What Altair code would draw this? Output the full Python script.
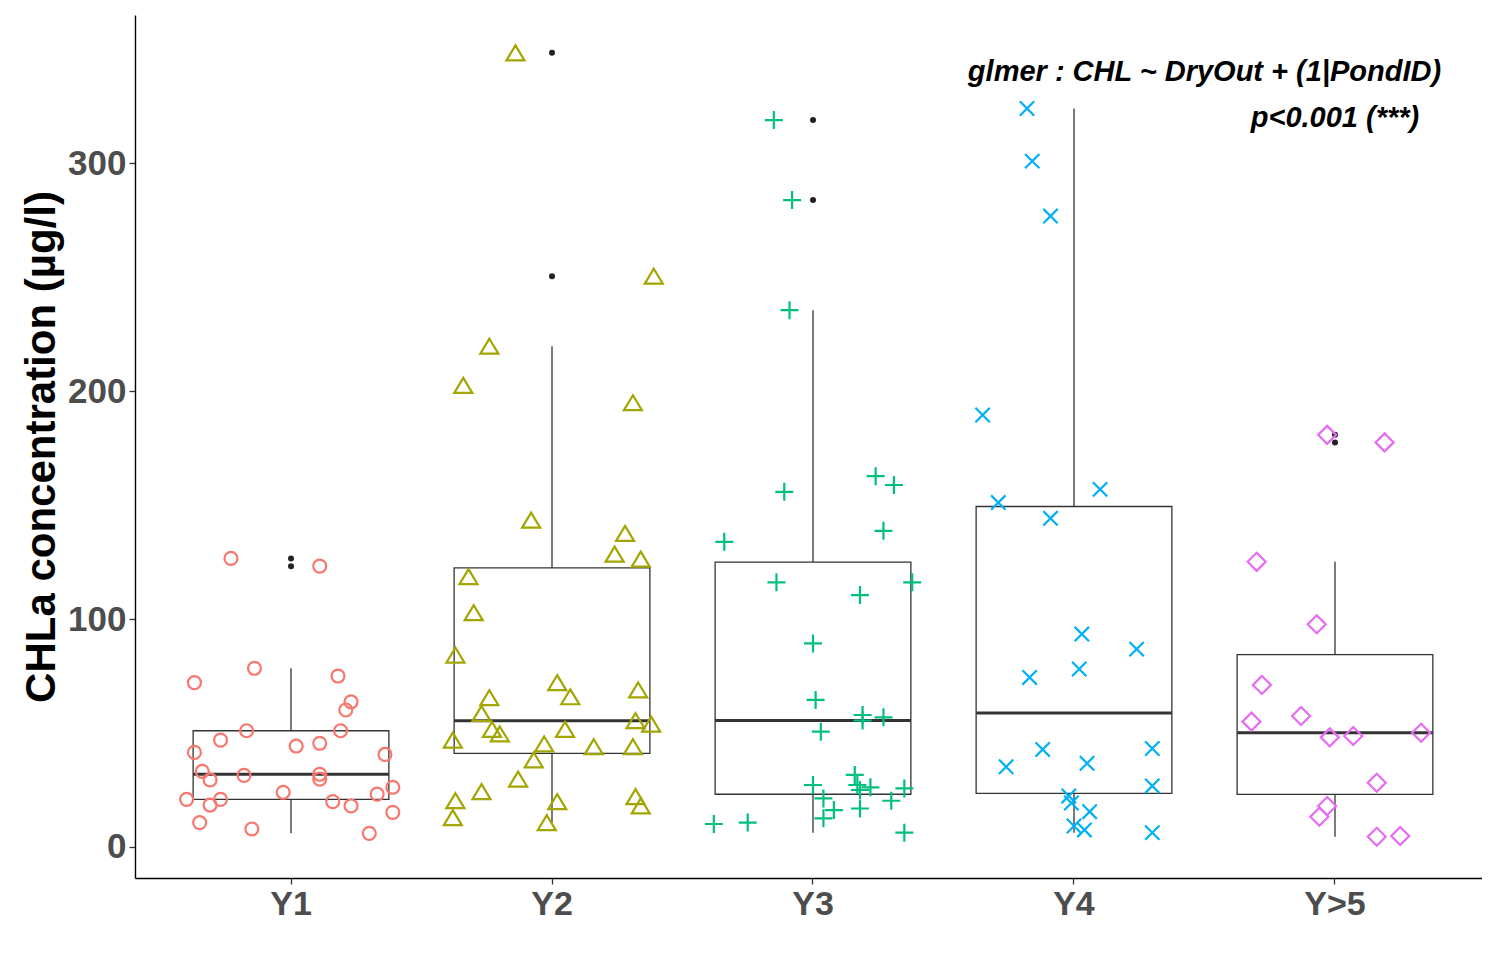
import altair as alt
import pandas as pd

groups = ["Y1", "Y2", "Y3", "Y4", "Y>5"]
colors = ["#F8766D", "#A3A500", "#00BF7D", "#00B0F6", "#E76BF3"]
shapes = [
    "M-0.72,0A0.72,0.72 0 1,0 0.72,0A0.72,0.72 0 1,0 -0.72,0Z",
    "M0,-0.83L1,0.83L-1,0.83Z",
    "M-1,0L1,0M0,-1L0,1",
    "M-0.8,-0.8L0.8,0.8M-0.8,0.8L0.8,-0.8",
    "M0,-1L1,0L0,1L-1,0Z",
]

# CHLa values (ug/l) and horizontal jitter (fraction of category width)
y1_values = [126.6, 123.2, 78.4, 72.1, 75.0, 63.7, 60.1, 51.0, 51.0, 46.9, 44.3, 45.5, 41.5, 40.6,
             33.2, 29.4, 31.4, 31.9, 29.8, 24.0, 26.2, 23.2, 20.9, 20.9, 18.4, 19.9, 18.0, 15.2,
             10.7, 7.9, 6.0]
y1_jitter = [-0.23, 0.11, -0.14, -0.37, 0.18, 0.23, 0.21, -0.17, 0.19, -0.27, 0.02, 0.11, -0.37, 0.36,
             -0.34, -0.31, -0.18, 0.11, 0.11, -0.03, 0.39, 0.33, -0.40, -0.27, -0.31, 0.16, 0.23, 0.39,
             -0.35, -0.15, 0.30]

y2_values = [348.4, 250.4, 219.7, 202.5, 194.9, 143.4, 137.6, 128.5, 126.3, 118.6, 102.8, 84.2,
             72.1, 65.9, 68.9, 65.5, 58.6, 55.4, 53.9, 51.6, 49.6, 51.6, 46.9, 45.2, 44.0, 44.0,
             38.2, 29.8, 24.3, 20.3, 12.9, 19.9, 10.7, 22.1, 18.0]
y2_jitter = [-0.14, 0.39, -0.24, -0.34, 0.31, -0.08, 0.28, 0.24, 0.34, -0.32, -0.30, -0.37,
             0.02, 0.07, 0.33, -0.24, -0.27, 0.32, 0.38, -0.23, -0.20, 0.05, -0.38, -0.03, 0.16, 0.31,
             -0.07, -0.13, -0.27, -0.37, -0.38, 0.02, -0.02, 0.32, 0.34]

y3_values = [318.9, 283.8, 235.5, 155.8, 162.7, 158.8, 138.7, 133.9, 116.1, 116.1, 110.5, 89.3,
             64.5, 57.9, 56.9, 55.5, 50.6, 27.2, 31.6, 27.2, 26.2, 25.7, 25.0, 21.3, 20.3, 16.2,
             16.9, 12.6, 10.1, 10.7, 6.3]
y3_jitter = [-0.15, -0.08, -0.09, -0.11, 0.24, 0.31, 0.27, -0.34, -0.14, 0.38, 0.18, 0.00,
             0.01, 0.19, 0.27, 0.19, 0.03, 0.00, 0.16, 0.17, 0.22, 0.35, 0.18, 0.04, 0.30, 0.08,
             0.18, 0.04, -0.38, -0.25, 0.35]

y4_values = [324.0, 300.9, 276.8, 189.5, 156.9, 151.1, 144.2, 93.4, 86.8, 78.1, 74.4, 42.8, 43.2,
             35.2, 36.7, 26.8, 22.4, 19.3, 15.5, 9.2, 7.5, 6.3]
y4_jitter = [-0.18, -0.16, -0.09, -0.35, 0.10, -0.29, -0.09, 0.03, 0.24, 0.02, -0.17, -0.12, 0.30,
             -0.26, 0.05, 0.30, -0.02, -0.01, 0.06, 0.00, 0.04, 0.30]

y5_values = [180.8, 177.5, 125.1, 97.7, 71.1, 57.5, 55.0, 48.1, 48.7, 50.1, 28.2, 18.0, 13.3, 4.5, 4.8]
y5_jitter = [-0.03, 0.19, -0.30, -0.07, -0.28, -0.13, -0.32, -0.02, 0.07, 0.33, 0.16, -0.03, -0.06,
             0.16, 0.25]

ann_text = ["glmer : CHL ~ DryOut + (1|PondID)", "p<0.001 (***)"]
ann_group = ["Y4", "Y>5"]
ann_offset = [0.5, 0.0]
ann_value = [340, 320]

rows = []
for g, vals, jit in zip(groups,
                        [y1_values, y2_values, y3_values, y4_values, y5_values],
                        [y1_jitter, y2_jitter, y3_jitter, y4_jitter, y5_jitter]):
    for v, j in zip(vals, jit):
        rows.append({"group": g, "value": v, "jitter": j})
df = pd.DataFrame(rows)
ann = pd.DataFrame({"text": ann_text, "group": ann_group, "jitter": ann_offset, "value": ann_value})

FONT = "Liberation Sans"
W, H = 1347, 863
PAD_OUT = 0.0805
step = W / (5 + 2 * PAD_OUT)

x_enc = alt.X("group:N", sort=groups,
              scale=alt.Scale(domain=groups, paddingInner=0, paddingOuter=PAD_OUT, align=0.607),
              axis=alt.Axis(title=None, labelAngle=0, labelFontSize=34, labelFontWeight="bold",
                            labelColor="#4d4d4d", labelFont=FONT, tickSize=6, tickColor="#333333",
                            tickWidth=1.3, domainColor="black", domainWidth=1.4, labelPadding=3,
                            grid=False))
y_enc = alt.Y("value:Q",
              scale=alt.Scale(domain=[-13.6, 365], nice=False, zero=False),
              axis=alt.Axis(values=[0, 100, 200, 300], labelFontSize=35, labelFontWeight="bold",
                            labelColor="#4d4d4d", labelFont=FONT, tickSize=6, tickColor="#333333",
                            tickWidth=1.3, domainColor="black", domainWidth=1.4, grid=False,
                            labelPadding=3, title="CHLa concentration (µg/l)", titleFontSize=42,
                            titleFontWeight="bold", titleColor="black", titleFont=FONT,
                            titlePadding=4))
# offset positions are measured from the band start
off_scale = alt.Scale(domain=[-0.5, 0.5], range=[0, step])

box = alt.Chart(df).mark_boxplot(
    extent=1.5, size=0.75 * step,
    box={"fill": "white", "stroke": "#333333", "strokeWidth": 1.3, "opacity": 1},
    median={"color": "#333333", "thickness": 3, "opacity": 1},
    rule={"color": "#333333", "strokeWidth": 1.3, "opacity": 1},
    outliers={"color": "#222222", "filled": True, "size": 36, "opacity": 1},
).encode(x=x_enc, y=y_enc)

pts = alt.Chart(df).mark_point(filled=False, strokeWidth=2.2, size=324, opacity=1).encode(
    x=alt.X("group:N", sort=groups),
    xOffset=alt.XOffset("jitter:Q", scale=off_scale),
    y=alt.Y("value:Q"),
    color=alt.Color("group:N", scale=alt.Scale(domain=groups, range=colors), legend=None),
    shape=alt.Shape("group:N", scale=alt.Scale(domain=groups, range=shapes), legend=None),
)

txt = alt.Chart(ann).mark_text(font=FONT, fontSize=29, fontStyle="italic", fontWeight="bold",
                               color="black", align="center", baseline="middle").encode(
    x=alt.X("group:N", sort=groups),
    xOffset=alt.XOffset("jitter:Q", scale=off_scale),
    y=alt.Y("value:Q"),
    text="text:N",
)

chart = alt.layer(box, pts, txt).properties(
    width=W, height=H,
    autosize=alt.AutoSizeParams(type="none"),
    padding={"left": 127, "top": 7, "right": 0, "bottom": 80},
    background="white",
).configure_view(stroke=None)

chart.save("out.html", embed_options={"renderer": "svg", "actions": False})
